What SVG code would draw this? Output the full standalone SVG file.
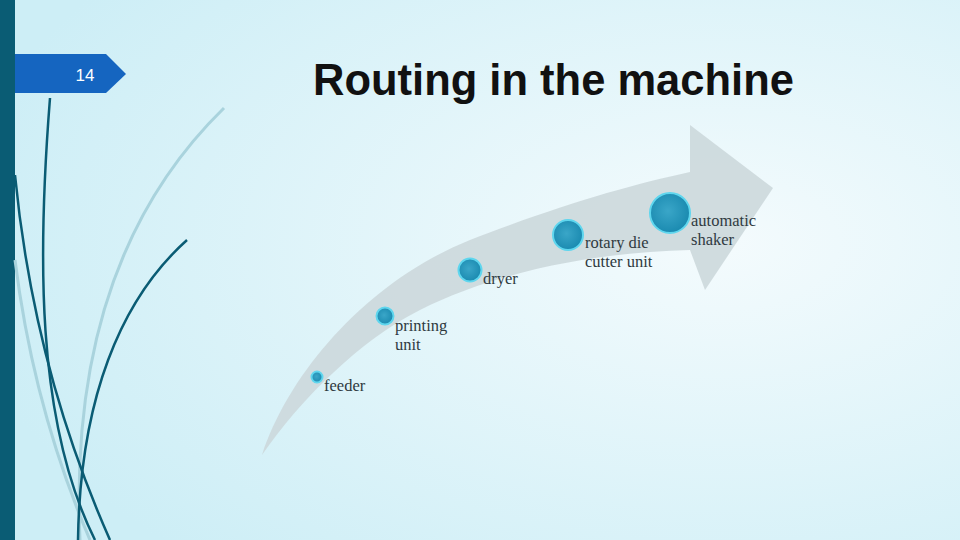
<svg xmlns="http://www.w3.org/2000/svg" width="960" height="540" viewBox="0 0 960 540">
<defs>
<radialGradient id="bg" cx="0.75" cy="0.45" r="0.8">
<stop offset="0" stop-color="#f4fbfd"/><stop offset="1" stop-color="#cdeef6"/>
</radialGradient>
<radialGradient id="dot" cx="0.45" cy="0.45" r="0.6">
<stop offset="0" stop-color="#3aa6c8"/><stop offset="1" stop-color="#1888ae"/>
</radialGradient>
<style>
.lbl{font-family:"Liberation Serif",serif;font-size:16.5px;fill:#2f3a3f}
.dot{fill:url(#dot);stroke:#5fd6ee;stroke-width:2}
.dk{fill:none;stroke:#0a5c74;stroke-width:2.5}
.lt{fill:none;stroke:#a9d3dd;stroke-width:3}
</style>
</defs>
<rect width="960" height="540" fill="url(#bg)"/>
<rect x="0" y="0" width="15" height="540" fill="#0a5c74"/>
<g id="decor">
<path class="lt" d="M224,108 C140,190 70,320 80,540"/>
<path class="lt" d="M15,260 C30,380 60,470 90,540"/>
<path class="dk" d="M50,98 C38,250 35,420 95,540"/>
<path class="dk" d="M15,175 C30,330 70,450 110,540"/>
<path class="dk" d="M187,240 C120,300 80,400 78,540"/>
</g>
<g id="badge">
<path d="M15,54 H106 L126,74 L106,93 H15 Z" fill="#1565c0"/>
<text x="85" y="81" font-family="Liberation Sans,Arial,sans-serif" font-size="17" fill="#fff" text-anchor="middle">14</text>
</g>
<text x="313" y="95" font-family="Liberation Sans,Arial,sans-serif" font-size="43.5" font-weight="bold" fill="#111">Routing in the machine</text>
<g id="arrow">
<path d="M262,455 C290,370 370,280 470,240 C560,205 630,185 690,172 L690,125 L773,188 L705,290 L690,250 C600,252 500,270 420,310 C360,340 300,400 262,455 Z" fill="#ccd8dc" opacity="0.9"/>
</g>
<g id="feeder"><circle class="dot" cx="317" cy="377" r="5.5"/><text class="lbl" x="324" y="391">feeder</text></g>
<g id="printing"><circle class="dot" cx="385" cy="316" r="8.5"/><text class="lbl" x="395" y="331">printing</text><text class="lbl" x="395" y="350">unit</text></g>
<g id="dryer"><circle class="dot" cx="470" cy="270" r="11.5"/><text class="lbl" x="483" y="284">dryer</text></g>
<g id="rotary"><circle class="dot" cx="568" cy="235" r="15"/><text class="lbl" x="585" y="248">rotary die</text><text class="lbl" x="585" y="267">cutter unit</text></g>
<g id="shaker"><circle class="dot" cx="670" cy="213" r="20"/><text class="lbl" x="691" y="226">automatic</text><text class="lbl" x="691" y="245">shaker</text></g>
</svg>
